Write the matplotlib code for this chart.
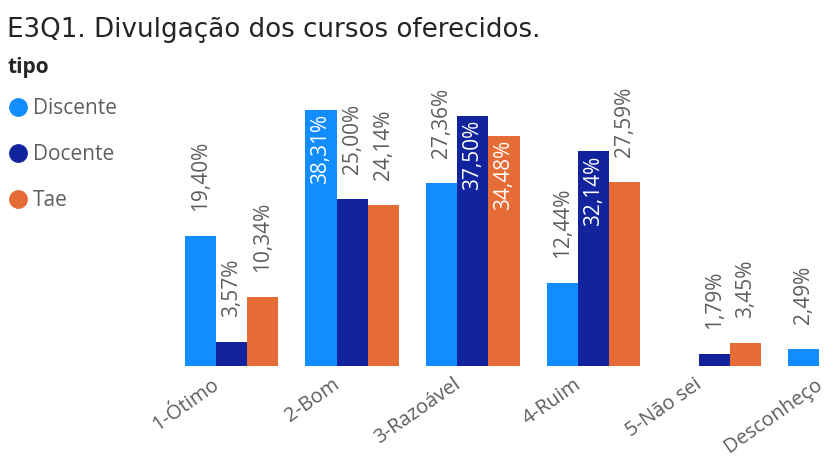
import matplotlib
matplotlib.use("Agg")
import matplotlib.pyplot as plt
import matplotlib.transforms as mtransforms
from matplotlib.lines import Line2D
import numpy as np

categories = ["1-Ótimo", "2-Bom", "3-Razoável", "4-Ruim", "5-Não sei", "Desconheço"]
series_names = ["Discente", "Docente", "Tae"]
discente = [19.40, 38.31, 27.36, 12.44, None, 2.49]
docente = [3.57, 25.00, 37.50, 32.14, 1.79, None]
tae = [10.34, 24.14, 34.48, 27.59, 3.45, None]
colors = ["#118DFF", "#12239E", "#E66C37"]

label_color = "#605E5C"
plt.rcParams["font.family"] = ["Open Sans", "DejaVu Sans"]

fig = plt.figure(figsize=(8.35, 4.59), dpi=100)
ax = fig.add_axes([160 / 835, 1 - 366 / 459, 1 - 160 / 835, 306 / 459])

x = np.arange(len(categories))
w = 0.258
for i, (name, vals) in enumerate(zip(series_names, [discente, docente, tae])):
    for j, v in enumerate(vals):
        if v is None:
            continue
        xi = x[j] + (i - 1) * w
        ax.bar(xi, v, width=w, color=colors[i])
        txt = f"{v:.2f}%".replace(".", ",")
        if v > 30:
            ax.annotate(txt, (xi, v), xytext=(0, -3), textcoords="offset points",
                        rotation=90, ha="center", va="top", color="white",
                        fontsize=15, annotation_clip=False)
        else:
            ax.annotate(txt, (xi, v), xytext=(0, 18), textcoords="offset points",
                        rotation=90, ha="center", va="bottom", color=label_color,
                        fontsize=15, annotation_clip=False)

ax.set_xlim(-0.592, 4.959)
ax.set_ylim(0, 306 / 6.68)
ax.set_xticks(x)
ax.set_xticklabels(categories, rotation=35, ha="right", va="top",
                   rotation_mode="anchor", color=label_color, fontsize=14.5)
ax.tick_params(axis="x", length=0, pad=6)
shift = mtransforms.ScaledTranslation(-20 / 100, 0, fig.dpi_scale_trans)
for lbl in ax.get_xticklabels():
    lbl.set_transform(lbl.get_transform() + shift)
ax.set_yticks([])
for s in ax.spines.values():
    s.set_visible(False)

fig.text(7 / 835, 1 - 30 / 459, "E3Q1. Divulgação dos cursos oferecidos.",
         fontsize=18.8, color="#252423", family=["DejaVu Sans"],
         va="center", ha="left")

fig.text(8 / 835, 1 - 68 / 459, "tipo", fontsize=15, fontweight="bold",
         color="#252423", va="center", ha="left")

handles = [Line2D([], [], marker="o", linestyle="", markersize=12.5, color=c) for c in colors]
leg = fig.legend(handles, series_names, loc="upper left",
                 bbox_to_anchor=(10 / 835, 1 - 98 / 459), frameon=False, fontsize=15,
                 handletextpad=0.3, labelspacing=1.2, handlelength=0.8,
                 borderaxespad=0, borderpad=0)
for t in leg.get_texts():
    t.set_color(label_color)

fig.savefig("out.png", dpi=100)
